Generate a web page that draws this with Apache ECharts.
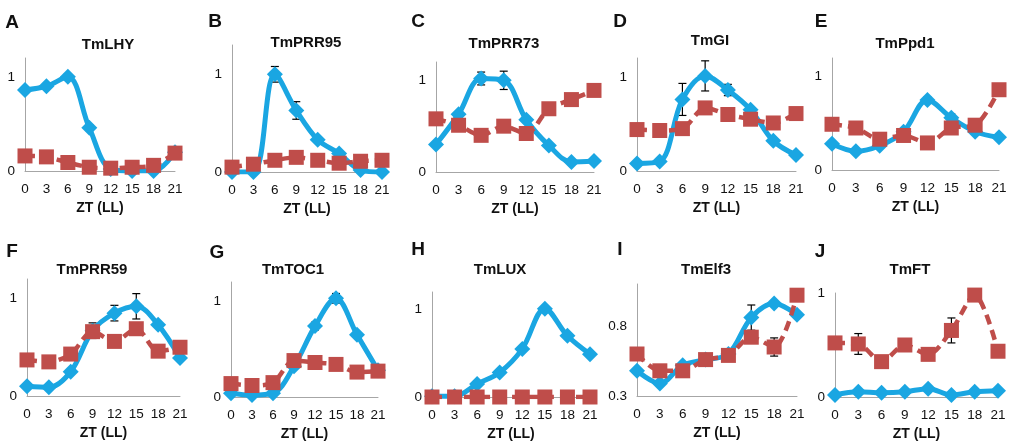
<!DOCTYPE html>
<html>
<head>
<meta charset="utf-8">
<script src="https://cdn.jsdelivr.net/npm/echarts@6/dist/echarts.min.js"></script>
<style>
  html, body { margin: 0; padding: 0; background: #fff; }
  #chart { width: 1012px; height: 446px; }
</style>
</head>
<body>
<div id="chart"></div>
<script>
// ZT hours (LL)
var hours = ['0', '3', '6', '9', '12', '15', '18', '21'];

var letters = ['A', 'B', 'C', 'D', 'E', 'F', 'G', 'H', 'I', 'J'];
var genes = ['TmLHY', 'TmPRR95', 'TmPRR73', 'TmGI', 'TmPpd1', 'TmPRR59', 'TmTOC1', 'TmLUX', 'TmElf3', 'TmFT'];

// blue = diamonds (solid line), red = squares (dashed line)
var lhyBlue   = [0.86, 0.90, 1.00, 0.46, 0.02, 0.00, 0.00, 0.20];
var lhyRed    = [0.16, 0.15, 0.09, 0.04, 0.03, 0.04, 0.06, 0.19];
var prr95Blue = [0.00, 0.00, 1.00, 0.63, 0.33, 0.19, 0.02, 0.00];
var prr95Red  = [0.05, 0.08, 0.12, 0.15, 0.12, 0.09, 0.11, 0.12];
var prr73Blue = [0.30, 0.63, 1.02, 1.00, 0.57, 0.29, 0.11, 0.12];
var prr73Red  = [0.58, 0.51, 0.40, 0.50, 0.42, 0.69, 0.79, 0.89];
var giBlue    = [0.08, 0.10, 0.76, 1.01, 0.86, 0.65, 0.32, 0.17];
var giRed     = [0.44, 0.43, 0.45, 0.67, 0.60, 0.55, 0.51, 0.61];
var ppd1Blue  = [0.28, 0.20, 0.26, 0.41, 0.75, 0.56, 0.41, 0.35];
var ppd1Red   = [0.49, 0.45, 0.33, 0.37, 0.29, 0.45, 0.48, 0.86];
var prr59Blue = [0.10, 0.09, 0.25, 0.67, 0.85, 0.92, 0.73, 0.39];
var prr59Red  = [0.37, 0.35, 0.43, 0.66, 0.56, 0.69, 0.46, 0.50];
var toc1Blue  = [0.04, 0.02, 0.04, 0.32, 0.74, 1.03, 0.65, 0.28];
var toc1Red   = [0.14, 0.12, 0.15, 0.38, 0.36, 0.34, 0.26, 0.27];
var luxBlue   = [0.01, 0.01, 0.15, 0.28, 0.55, 1.01, 0.70, 0.49];
var luxRed    = [0.00, 0.00, 0.00, 0.00, 0.00, 0.00, 0.00, 0.00];
var elf3Blue  = [0.48, 0.39, 0.52, 0.56, 0.60, 0.86, 0.96, 0.88];
var elf3Red   = [0.60, 0.48, 0.48, 0.56, 0.59, 0.72, 0.65, 1.02];
var ftBlue    = [0.02, 0.05, 0.04, 0.05, 0.08, 0.02, 0.05, 0.06];
var ftRed     = [0.52, 0.51, 0.34, 0.50, 0.41, 0.64, 0.98, 0.44];

// error bar half-widths (0 = none visible)
var lhyBlueErr   = [0, 0, 0.03, 0.03, 0, 0, 0, 0];
var prr95BlueErr = [0, 0, 0.08, 0.09, 0, 0, 0, 0];
var prr73BlueErr = [0, 0, 0.07, 0.10, 0.03, 0, 0, 0];
var prr73RedErr  = [0, 0, 0, 0, 0, 0.05, 0, 0];
var giBlueErr    = [0, 0, 0.17, 0.16, 0.06, 0, 0, 0];
var ppd1BlueErr  = [0, 0.02, 0, 0, 0.03, 0.04, 0, 0];
var prr59BlueErr = [0, 0, 0, 0.08, 0.08, 0.13, 0, 0.03];
var toc1BlueErr  = [0, 0, 0, 0, 0.04, 0.05, 0, 0];
var elf3BlueErr  = [0, 0, 0, 0, 0, 0.09, 0, 0];
var elf3RedErr   = [0, 0, 0, 0, 0, 0, 0.065, 0];
var ftRedErr     = [0, 0.10, 0, 0.05, 0.05, 0.12, 0.02, 0];
var none         = [0, 0, 0, 0, 0, 0, 0, 0];

var blueSets = [lhyBlue, prr95Blue, prr73Blue, giBlue, ppd1Blue, prr59Blue, toc1Blue, luxBlue, elf3Blue, ftBlue];
var redSets  = [lhyRed, prr95Red, prr73Red, giRed, ppd1Red, prr59Red, toc1Red, luxRed, elf3Red, ftRed];
var blueErrs = [lhyBlueErr, prr95BlueErr, prr73BlueErr, giBlueErr, ppd1BlueErr, prr59BlueErr, toc1BlueErr, none, elf3BlueErr, none];
var redErrs  = [none, none, prr73RedErr, none, none, none, none, none, elf3RedErr, ftRedErr];

// panel layout (pixels) and y ranges
var layouts = [
    { left: 25,  top: 58,  width: 150, height: 113, min: 0,   max: 1.2, ticks: [0, 1],     title: [108, 45],  letter: [12, 23] },
    { left: 232, top: 45,  width: 150, height: 127, min: 0,   max: 1.3, ticks: [0, 1],     title: [306, 43],  letter: [215, 22] },
    { left: 436, top: 62,  width: 158, height: 110, min: 0,   max: 1.2, ticks: [0, 1],     title: [504, 44],  letter: [418, 22] },
    { left: 637, top: 58,  width: 159, height: 113, min: 0,   max: 1.2, ticks: [0, 1],     title: [710, 41],  letter: [620, 22] },
    { left: 832, top: 58,  width: 167, height: 112, min: 0,   max: 1.2, ticks: [0, 1],     title: [905, 44],  letter: [821, 22] },
    { left: 27,  top: 279, width: 153, height: 117, min: 0,   max: 1.2, ticks: [0, 1],     title: [92, 270],  letter: [12, 252] },
    { left: 231, top: 282, width: 147, height: 115, min: 0,   max: 1.2, ticks: [0, 1],     title: [293, 270], letter: [217, 253] },
    { left: 432, top: 292, width: 158, height: 105, min: 0,   max: 1.2, ticks: [0, 1],     title: [500, 270], letter: [418, 250] },
    { left: 637, top: 284, width: 160, height: 112, min: 0.3, max: 1.1, ticks: [0.3, 0.8], title: [706, 270], letter: [620, 250] },
    { left: 835, top: 293, width: 163, height: 104, min: 0,   max: 1.0, ticks: [0, 1],     title: [910, 270], letter: [820, 252] }
];

var blue = '#1aa6e2';
var red = '#bf4d4a';
var axisGrey = '#a6a6a6';
var font = '"Liberation Sans", Arial, sans-serif';

function errData(vals, errs) {
    var out = [];
    for (var i = 0; i < vals.length; i++) {
        if (errs[i] > 0) out.push([i, vals[i] - errs[i], vals[i] + errs[i]]);
    }
    return out;
}

function renderErr(params, api) {
    var lo = api.coord([api.value(0), api.value(1)]);
    var hi = api.coord([api.value(0), api.value(2)]);
    var cap = 4;
    var st = { stroke: '#000', lineWidth: 1.2 };
    return {
        type: 'group',
        children: [
            { type: 'line', shape: { x1: lo[0], y1: lo[1], x2: hi[0], y2: hi[1] }, style: st },
            { type: 'line', shape: { x1: lo[0] - cap, y1: lo[1], x2: lo[0] + cap, y2: lo[1] }, style: st },
            { type: 'line', shape: { x1: hi[0] - cap, y1: hi[1], x2: hi[0] + cap, y2: hi[1] }, style: st }
        ]
    };
}

var grids = [], xAxes = [], yAxes = [], series = [], graphics = [];

layouts.forEach(function (p, i) {
    grids.push({ left: p.left, top: p.top, width: p.width, height: p.height });

    xAxes.push({
        type: 'category',
        gridIndex: i,
        data: hours,
        boundaryGap: false,
        name: 'ZT (LL)',
        nameLocation: 'middle',
        nameGap: 30,
        nameTextStyle: { fontFamily: font, fontSize: 14, fontWeight: 'bold', color: '#111' },
        axisLine: { lineStyle: { color: axisGrey, width: 1 } },
        axisTick: { show: false },
        axisLabel: { fontFamily: font, fontSize: 13.5, color: '#111', margin: 11, interval: 0 },
        splitLine: { show: false }
    });

    yAxes.push({
        type: 'value',
        gridIndex: i,
        min: p.min,
        max: p.max,
        axisLine: { show: true, lineStyle: { color: axisGrey, width: 1 } },
        axisTick: { show: false },
        axisLabel: { fontFamily: font, fontSize: 13.5, color: '#111', margin: 10, customValues: p.ticks },
        splitLine: { show: false }
    });

    series.push({
        type: 'custom',
        xAxisIndex: i, yAxisIndex: i,
        renderItem: renderErr,
        encode: { x: 0, y: [1, 2] },
        data: errData(blueSets[i], blueErrs[i]).concat(errData(redSets[i], redErrs[i])),
        z: 1
    });

    series.push({
        type: 'line',
        xAxisIndex: i, yAxisIndex: i,
        data: blueSets[i],
        smooth: 0.35,
        symbol: 'diamond',
        symbolSize: 16,
        lineStyle: { color: blue, width: 5 },
        itemStyle: { color: blue },
        z: 2
    });

    series.push({
        type: 'line',
        xAxisIndex: i, yAxisIndex: i,
        data: redSets[i],
        smooth: 0.3,
        symbol: 'rect',
        symbolSize: 15,
        lineStyle: { color: red, width: 4.5, type: [10, 6] },
        itemStyle: { color: red },
        z: 3
    });

    graphics.push({
        type: 'text', x: p.title[0], y: p.title[1],
        style: { text: genes[i], font: 'bold 15px ' + font, fill: '#111', textAlign: 'center', textVerticalAlign: 'middle' }
    });
    graphics.push({
        type: 'text', x: p.letter[0], y: p.letter[1],
        style: { text: letters[i], font: 'bold 19px ' + font, fill: '#111', textAlign: 'center', textVerticalAlign: 'middle' }
    });
});

var chart = echarts.init(document.getElementById('chart'));
chart.setOption({
    animation: false,
    backgroundColor: '#fff',
    grid: grids,
    xAxis: xAxes,
    yAxis: yAxes,
    series: series,
    graphic: graphics
});
</script>
</body>
</html>
